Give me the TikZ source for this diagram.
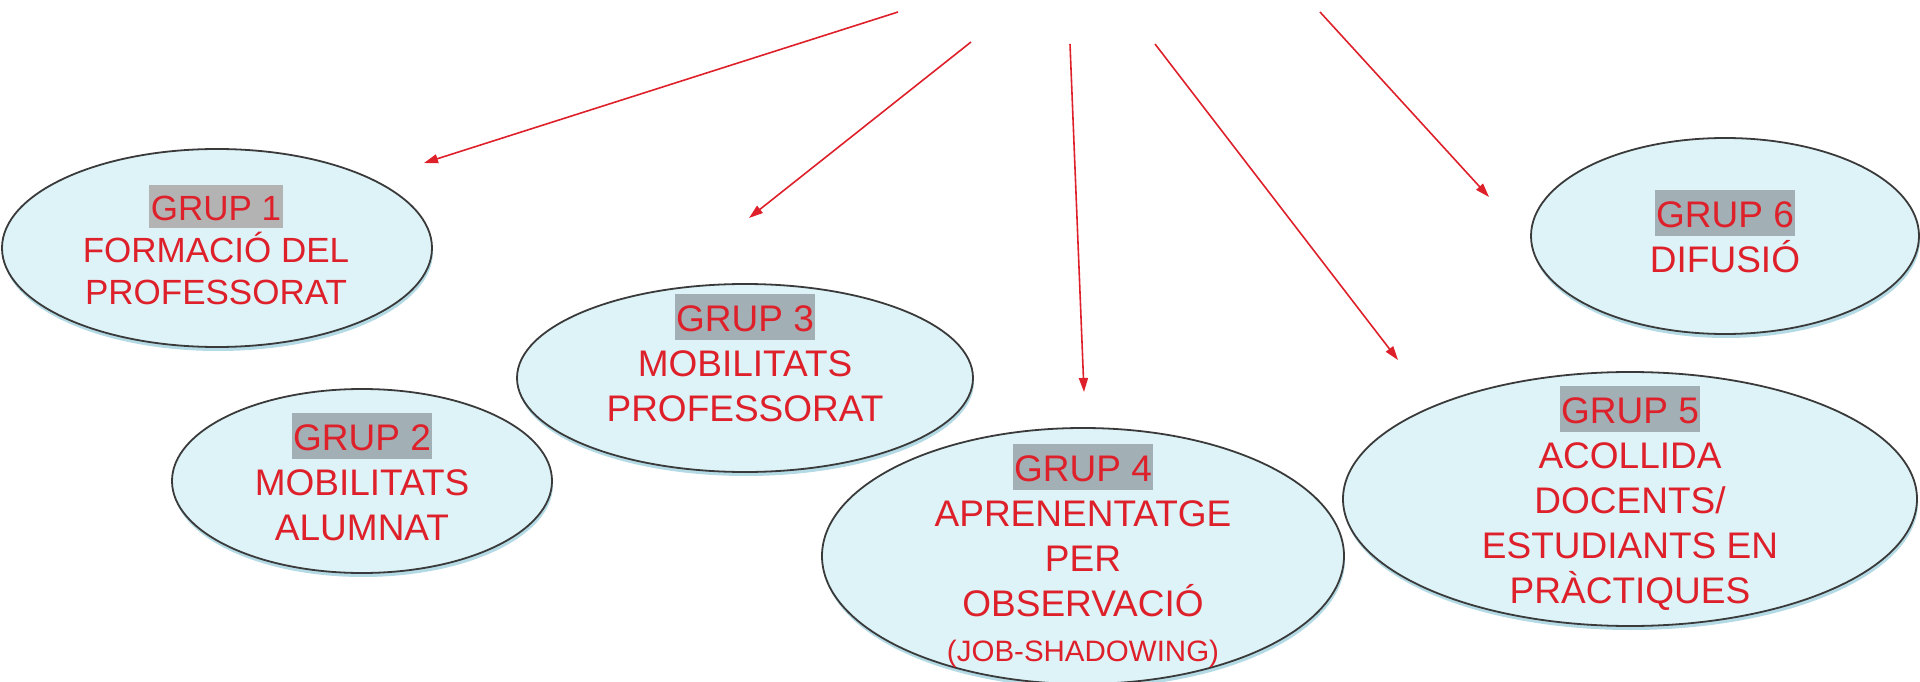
\documentclass[tikz,border=0pt]{standalone}
\usepackage{fontspec}
\setmainfont{Liberation Sans}
\usetikzlibrary{shapes.geometric,arrows.meta,shadows}
\definecolor{txtred}{RGB}{222,32,42}
\definecolor{arrred}{RGB}{222,32,42}
\definecolor{fillc}{RGB}{221,243,248}
\definecolor{edgec}{RGB}{58,58,58}
\definecolor{hlgrey}{RGB}{179,179,179}
\definecolor{hlblue}{RGB}{162,175,180}
\definecolor{shadc}{RGB}{130,195,212}
\newcommand\grhl[2]{{\setlength{\fboxsep}{0pt}\colorbox{#1}{\vrule width0pt height1.0em depth0.24em\kern1.5pt#2\kern1.5pt}}}
\newcommand\fbig{\fontsize{37}{45}\selectfont}
\newcommand\fsmall{\fontsize{35}{42}\selectfont}
\begin{document}
\begin{tikzpicture}[x=1pt,y=1pt,
  grp/.style={ellipse, draw=edgec, line width=1.8pt, fill=fillc, inner sep=0pt,
    drop shadow={shadow xshift=1pt, shadow yshift=-4pt, fill=shadc, opacity=0.6}},
  txt/.style={anchor=base, inner sep=0pt, text=txtred},
  arr/.style={draw=arrred, line width=1.6pt, -{Triangle[length=14pt,width=9pt]}}]
\useasboundingbox (0,0) rectangle (1920,-682);

% ellipses
\node[grp, minimum width=430pt, minimum height=198pt] (e1) at (217,-248) {};
\node[grp, minimum width=380pt, minimum height=184pt] (e2) at (362,-481) {};
\node[grp, minimum width=456pt, minimum height=188pt] (e3) at (745,-378) {};
\node[grp, minimum width=522pt, minimum height=256pt] (e4) at (1083,-556) {};
\node[grp, minimum width=574pt, minimum height=254pt] (e5) at (1630,-499) {};
\node[grp, minimum width=388pt, minimum height=196pt] (e6) at (1725,-236) {};

% texts
\node[txt] (t1) at (216,-220) {\fsmall\begin{tabular}[t]{@{}c@{}}\grhl{hlgrey}{GRUP 1}\\FORMACIÓ DEL\\PROFESSORAT\end{tabular}};
\node[txt] (t2) at (362,-450) {\fbig\begin{tabular}[t]{@{}c@{}}\grhl{hlblue}{GRUP 2}\\MOBILITATS\\ALUMNAT\end{tabular}};
\node[txt] (t3) at (745,-331) {\fbig\begin{tabular}[t]{@{}c@{}}\grhl{hlblue}{GRUP 3}\\MOBILITATS\\PROFESSORAT\end{tabular}};
\node[txt] (t4) at (1083,-481) {\fbig\begin{tabular}[t]{@{}c@{}}\grhl{hlblue}{GRUP 4}\\APRENENTATGE\\PER\\OBSERVACIÓ\\{\fontsize{29.5}{45}\selectfont (JOB-SHADOWING)}\end{tabular}};
\node[txt] (t5) at (1630,-423) {\fbig\begin{tabular}[t]{@{}c@{}}\grhl{hlblue}{GRUP 5}\\ACOLLIDA\\DOCENTS/\\ESTUDIANTS EN\\PRÀCTIQUES\end{tabular}};
\node[txt] (t6) at (1725,-227) {\fbig\begin{tabular}[t]{@{}c@{}}\grhl{hlblue}{GRUP 6}\\DIFUSIÓ\end{tabular}};

% arrows
\coordinate (a1s) at (898,-12);  \coordinate (a1e) at (424,-163);
\coordinate (a2s) at (971,-42);  \coordinate (a2e) at (749,-218);
\coordinate (a3s) at (1070,-44); \coordinate (a3e) at (1084,-392);
\coordinate (a4s) at (1155,-44); \coordinate (a4e) at (1398,-360);
\coordinate (a5s) at (1320,-12); \coordinate (a5e) at (1489,-197);
\draw[arr] (a1s) -- (a1e);
\draw[arr] (a2s) -- (a2e);
\draw[arr] (a3s) -- (a3e);
\draw[arr] (a4s) -- (a4e);
\draw[arr] (a5s) -- (a5e);
\end{tikzpicture}
\end{document}
